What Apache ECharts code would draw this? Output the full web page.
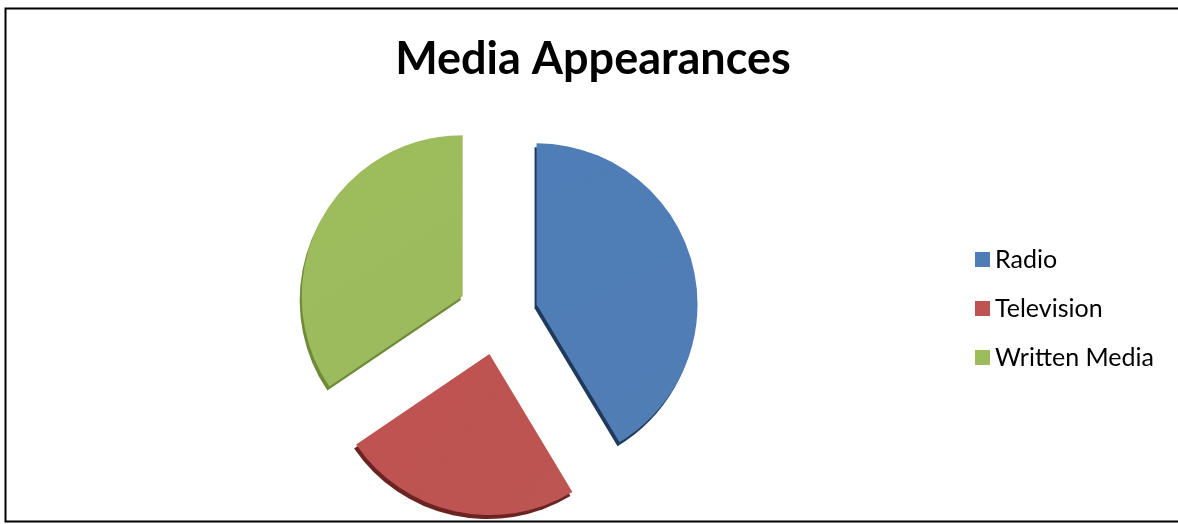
<!DOCTYPE html>
<html>
<head>
<meta charset="utf-8">
<style>
  html, body { margin: 0; padding: 0; background: #ffffff; }
  #chart { width: 1178px; height: 524px; }
</style>
<script src="https://cdn.jsdelivr.net/npm/echarts@6/dist/echarts.min.js"></script>
</head>
<body>
<div id="chart"></div>
<script>
// Media appearances by channel
const categories = ['Radio', 'Television', 'Written Media'];
const appearances = [12, 7, 10];
const faceColors = ['#4C7AB2', '#BA504E', '#99B85A'];
const edgeColors = ['#1F3A5C', '#6B2422', '#6F8A38'];

const chart = echarts.init(document.getElementById('chart'), null, { renderer: 'canvas' });

function face(c) {
  return {
    type: 'linear', x: 0, y: 0, x2: 1, y2: 1,
    colorStops: [
      { offset: 0, color: echarts.color.lift(c, -0.03) },
      { offset: 1, color: echarts.color.lift(c, 0.03) }
    ]
  };
}

const option = {
  animation: false,
  backgroundColor: '#ffffff',
  title: {
    text: 'Media Appearances',
    left: 588,
    top: 32,
    textAlign: 'center',
    textStyle: {
      fontFamily: 'Lato',
      fontWeight: 'bold',
      fontSize: 45,
      color: '#000000'
    }
  },
  legend: {
    orient: 'vertical',
    left: 970,
    top: 242,
    itemWidth: 15,
    itemHeight: 15,
    itemGap: 24,
    icon: 'rect',
    selectedMode: false,
    textStyle: { fontFamily: 'Lato', fontSize: 25, lineHeight: 24, color: '#000000' },
    data: categories
  },
  graphic: [{
    type: 'rect',
    shape: { x: 5.5, y: 8.5, width: 1200, height: 513 },
    style: { fill: 'none', stroke: '#000000', lineWidth: 2 },
    silent: true
  }],
  series: [{
    type: 'pie',
    center: [498, 315],
    radius: [0, 161],
    startAngle: 90,
    clockwise: true,
    selectedMode: 'multiple',
    selectedOffset: 40,
    label: { show: false },
    labelLine: { show: false },
    emphasis: { disabled: true },
    data: categories.map((name, i) => ({
      name: name,
      value: appearances[i],
      selected: true,
      itemStyle: {
        color: face(faceColors[i]),
        shadowColor: edgeColors[i],
        shadowBlur: 0,
        shadowOffsetX: -2,
        shadowOffsetY: 4
      }
    }))
  }],
  color: faceColors
};

chart.setOption(option);
</script>
</body>
</html>
